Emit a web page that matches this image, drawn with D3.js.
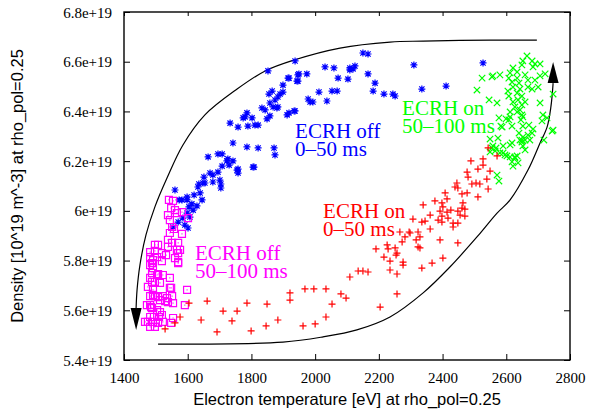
<!DOCTYPE html>
<html>
<head>
<meta charset="utf-8">
<script src="https://d3js.org/d3.v7.min.js"></script>
<style>
  body { margin: 0; background: #fff; }
  svg { display: block; }
</style>
</head>
<body>
<div id="main"></div>
<script>
// density values are in units of 1e19 m^-3, temperature in eV
var xTicks = [1400, 1600, 1800, 2000, 2200, 2400, 2600, 2800];
var yTicks = [5.4, 5.6, 5.8, 6.0, 6.2, 6.4, 6.6, 6.8];

// ECRH off, 0-50 ms (blue stars)
var offEarly = [
  [1937,6.603],[1852,6.563],[1915,6.534],[1946,6.547],[1946,6.522],[1899,6.506],[1865,6.482],[1855,6.470],
  [1883,6.458],[1874,6.446],[1858,6.434],[1883,6.418],[1868,6.418],[1843,6.406],[1833,6.414],[1786,6.394],
  [1802,6.374],[1821,6.345],[1849,6.370],[1934,6.402],[1912,6.386],[1811,6.345],[1789,6.341],[1780,6.378],
  [1774,6.374],[1733,6.353],[1758,6.337],[1742,6.273],[1786,6.257],[1821,6.253],[1871,6.253],[1874,6.225],
  [1808,6.176],[1758,6.168],[1758,6.152],[1742,6.201],[1730,6.184],[1723,6.201],[1708,6.229],[1695,6.229],
  [1708,6.180],[1695,6.156],[1679,6.144],[1664,6.217],[1701,6.124],[1704,6.108],[1704,6.092],[1679,6.116],
  [1670,6.152],[1654,6.112],[1635,6.108],[1632,6.096],[1620,6.064],[1645,6.044],[1639,6.072],[1598,6.056],
  [1613,6.028],[1598,6.044],[1582,6.044],[1560,6.084],[1604,6.016],[1617,6.003],[1629,6.020],[1573,6.044],
  [1598,5.991],[1607,5.975],[1585,5.971],[1591,5.943],[1570,5.955],[1601,5.931],[1554,5.935],[1651,6.136],
  [2150,6.635],[2166,6.631],[2031,6.579],[2059,6.575],[2109,6.575],[2125,6.583],[2109,6.567],[2119,6.571],
  [1949,6.551],[1974,6.551],[1918,6.534],[1943,6.522],[2072,6.534],[2103,6.530],[2166,6.551],[2188,6.514],
  [2182,6.482],[2216,6.470],[2244,6.470],[2251,6.462],[2053,6.482],[2069,6.482],[2012,6.478],[2037,6.442],
  [1978,6.450],[1984,6.438],[1993,6.438],[1899,6.478],[1890,6.470],[1880,6.414],[1937,6.402],[1918,6.394],
  [1858,6.382],[2310,6.587],[2335,6.490],[2411,6.502],[2527,6.595],[1755,6.164],[1805,6.176],[1726,6.209],
  [1648,6.112]
];

// ECRH off, 50-100 ms (magenta squares)
var offLate = [
  [1541,6.044],[1554,6.040],[1548,6.011],[1560,6.003],[1538,5.983],[1544,5.963],[1582,5.995],[1601,5.971],
  [1551,5.935],[1557,5.927],[1582,5.907],[1544,5.911],[1538,5.883],[1551,5.871],[1570,5.871],[1538,5.855],
  [1576,5.843],[1570,5.830],[1497,5.863],[1507,5.863],[1482,5.834],[1497,5.839],[1519,5.830],[1532,5.822],
  [1482,5.814],[1504,5.814],[1560,5.810],[1570,5.794],[1519,5.798],[1488,5.790],[1491,5.770],[1488,5.750],
  [1504,5.742],[1507,5.746],[1482,5.730],[1488,5.714],[1497,5.714],[1513,5.710],[1544,5.690],[1598,5.682],
  [1475,5.694],[1491,5.682],[1482,5.657],[1497,5.657],[1507,5.653],[1522,5.657],[1535,5.649],[1538,5.633],
  [1513,5.641],[1482,5.621],[1591,5.621],[1488,5.609],[1504,5.601],[1513,5.593],[1482,5.573],[1475,5.553],
  [1491,5.553],[1507,5.549],[1466,5.553],[1497,5.533],[1482,5.533],[1554,5.569],[1522,5.553],[1548,5.549],
  [1548,5.690],[1551,5.657],[1491,5.662],[1519,5.581],[1485,5.613],[1494,5.573],[1570,5.790],[1566,5.843],
  [1522,5.742],[1529,5.637],[1554,5.629],[1510,5.573],[1472,5.621],[1544,5.730],[1566,5.991],[1491,5.802],
  [1482,5.782]
];

// ECRH on, 50-100 ms (green crosses)
var onLate = [
  [2665,6.623],[2652,6.603],[2681,6.603],[2690,6.591],[2706,6.591],[2649,6.587],[2684,6.579],[2621,6.575],
  [2612,6.555],[2634,6.559],[2580,6.547],[2558,6.543],[2524,6.534],[2608,6.534],[2618,6.518],[2634,6.534],
  [2659,6.547],[2668,6.526],[2690,6.526],[2706,6.543],[2722,6.551],[2640,6.514],[2621,6.498],[2643,6.490],
  [2668,6.498],[2681,6.490],[2700,6.498],[2605,6.482],[2508,6.486],[2608,6.462],[2634,6.474],[2649,6.462],
  [2637,6.446],[2621,6.438],[2659,6.438],[2627,6.418],[2643,6.406],[2634,6.398],[2649,6.386],[2706,6.434],
  [2747,6.470],[2546,6.446],[2571,6.434],[2649,6.426],[2612,6.398],[2577,6.374],[2599,6.370],[2608,6.366],
  [2646,6.366],[2652,6.378],[2715,6.386],[2728,6.374],[2712,6.362],[2587,6.337],[2618,6.341],[2652,6.341],
  [2640,6.313],[2652,6.297],[2684,6.329],[2681,6.313],[2747,6.325],[2549,6.289],[2574,6.293],[2659,6.285],
  [2643,6.285],[2590,6.261],[2618,6.273],[2568,6.253],[2555,6.253],[2580,6.233],[2596,6.225],[2612,6.217],
  [2627,6.217],[2668,6.305],[2674,6.285],[2555,6.539],[2718,6.285],[2744,6.321],[2671,6.345],[2649,6.285],
  [2652,6.261],[2659,6.245],[2558,6.261],[2549,6.237],[2565,6.241],[2590,6.233],[2602,6.221],[2612,6.265],
  [2627,6.213],[2618,6.197],[2621,6.180],[2634,6.221],[2637,6.193],[2571,6.144],[2577,6.120],[2649,6.277],
  [2583,6.341],[2612,6.378]
];

// ECRH on, 0-50 ms (red plus signs)
var onEarly = [
  [1529,5.525],[1560,5.549],[1576,5.573],[1604,5.629],[1642,5.561],[1661,5.637],[1692,5.513],[1711,5.597],
  [1739,5.557],[1755,5.597],[1786,5.629],[1799,5.517],[1846,5.537],[1849,5.625],[1883,5.561],[1921,5.670],
  [1921,5.641],[1962,5.537],[1968,5.686],[1996,5.686],[2000,5.545],[2034,5.573],[2034,5.686],[2053,5.625],
  [2081,5.666],[2097,5.649],[2109,5.734],[2135,5.758],[2150,5.758],[2204,5.613],[2191,5.847],[2216,5.814],
  [2226,5.863],[2235,5.798],[2235,5.762],[2251,5.851],[2257,5.746],[2257,5.666],[2257,5.830],[2276,5.794],
  [2273,5.875],[2543,6.253],[2571,6.221],[2489,6.201],[2527,6.209],[2527,6.184],[2511,6.168],[2549,6.160],
  [2477,6.156],[2480,6.136],[2445,6.112],[2492,6.108],[2505,6.112],[2517,6.108],[2539,6.128],[2543,6.088],
  [2448,6.092],[2439,6.096],[2408,6.072],[2461,6.068],[2477,6.072],[2511,6.056],[2414,6.048],[2376,6.040],
  [2398,6.032],[2401,6.016],[2464,6.032],[2339,6.024],[2461,6.011],[2426,6.003],[2414,5.995],[2392,5.999],
  [2448,5.999],[2470,6.007],[2398,5.979],[2455,5.983],[2361,5.983],[2470,5.979],[2417,5.971],[2307,5.967],
  [2335,5.955],[2345,5.959],[2386,5.963],[2398,5.955],[2433,5.951],[2448,5.951],[2433,5.935],[2361,5.927],
  [2298,5.911],[2323,5.915],[2329,5.895],[2282,5.895],[2317,5.883],[2323,5.855],[2329,5.851],[2392,5.883],
  [2448,5.871],[2401,5.810],[2367,5.790],[2335,5.770],[2276,5.782],[2166,5.754],[2229,5.847],[2295,5.915],
  [2266,5.915],[2254,5.822]
];

// hand drawn loop with arrows (data units)
var loopBottom = [
  [1507,5.464],[1899,5.472],[2025,5.493],[2131,5.521],[2235,5.573],[2339,5.670],[2423,5.774],[2508,5.895],
  [2571,5.991],[2612,6.044],[2668,6.164],[2706,6.273],[2728,6.337],[2740,6.418],[2747,6.514]
];
var loopTop = [
  [2696,6.687],[2549,6.687],[2339,6.683],[2235,6.679],[2078,6.655],[1934,6.607],[1843,6.563],[1755,6.490],
  [1654,6.386],[1585,6.265],[1535,6.132],[1497,6.016],[1469,5.903],[1450,5.782],[1441,5.682],[1438,5.609]
];
var arrowUp = {base: [2747,6.514], tip: [2747,6.599]};
var arrowDown = {base: [1438,5.609], tip: [1438,5.521]};

var labels = [
  {lines: ["ECRH off", "0\u201350 ms"], at: [1937,6.293], color: "#0000ff"},
  {lines: ["ECRH on", "50\u2013100 ms"], at: [2273,6.386], color: "#00ff00"},
  {lines: ["ECRH on", "0\u201350 ms"], at: [2025,5.971], color: "#ff0000"},
  {lines: ["ECRH off", "50\u2013100 ms"], at: [1623,5.802], color: "#ff00ff"}
];

var width = 590, height = 417;
var mLeft = 124, mRight = 570, mTop = 12, mBottom = 360;
var serif = "'Liberation Serif', 'Times New Roman', serif";
var sans = "'Liberation Sans', Arial, sans-serif";

var svg = d3.select("#main").append("svg")
    .attr("width", width)
    .attr("height", height);

var x = d3.scaleLinear().domain([1400, 2800]).range([mLeft, mRight]);
var y = d3.scaleLinear().domain([5.4, 6.8]).range([mBottom, mTop]);

// axes (ticks point inward, mirrored on top/right)
var xb = svg.append("g").attr("transform", "translate(0," + mBottom + ")")
    .call(d3.axisBottom(x).tickValues(xTicks).tickSize(-6).tickFormat(d3.format("d")));
var yl = svg.append("g").attr("transform", "translate(" + mLeft + ",0)")
    .call(d3.axisLeft(y).tickValues(yTicks).tickSize(-6)
      .tickFormat(function(d) { return (+d.toFixed(1)) + "e+19"; }));
var xt = svg.append("g").attr("transform", "translate(0," + mTop + ")")
    .call(d3.axisTop(x).tickValues(xTicks).tickSize(-4).tickFormat(""));
var yr = svg.append("g").attr("transform", "translate(" + mRight + ",0)")
    .call(d3.axisRight(y).tickValues(yTicks).tickSize(-6).tickFormat(""));

[xb, yl, xt, yr].forEach(function(g) {
  g.select(".domain").remove();
  g.selectAll("line").attr("stroke", "#000").attr("stroke-width", 1);
  g.selectAll("text").attr("font-family", serif).attr("font-size", 15).attr("fill", "#000");
});
xb.selectAll("text").attr("y", 23).attr("dy", 0);
yl.selectAll("text").attr("x", -12).attr("dy", "0.34em");

svg.append("rect")
    .attr("x", mLeft).attr("y", mTop)
    .attr("width", mRight - mLeft).attr("height", mBottom - mTop)
    .attr("fill", "none").attr("stroke", "#000").attr("stroke-width", 1.4);

// axis titles
svg.append("text")
    .attr("x", (mLeft + mRight) / 2).attr("y", 405)
    .attr("text-anchor", "middle")
    .attr("font-family", sans).attr("font-size", 16.5)
    .text("Electron temperature [eV] at rho_pol=0.25");
svg.append("text")
    .attr("transform", "translate(23," + (mTop + mBottom) / 2 + ") rotate(-90)")
    .attr("text-anchor", "middle")
    .attr("font-family", sans).attr("font-size", 16.5)
    .text("Density [10^19 m^-3] at rho_pol=0.25");

// loop curve
var line = d3.line()
    .x(function(d) { return x(d[0]); })
    .y(function(d) { return y(d[1]); })
    .curve(d3.curveCatmullRom);

[loopBottom, loopTop].forEach(function(pts) {
  svg.append("path").attr("d", line(pts))
      .attr("fill", "none").attr("stroke", "#000").attr("stroke-width", 1.2);
});
[arrowUp, arrowDown].forEach(function(a) {
  var bx = x(a.base[0]), by = y(a.base[1]), tx = x(a.tip[0]), ty = y(a.tip[1]);
  svg.append("path")
      .attr("d", "M" + tx + "," + ty + "L" + (bx - 5.5) + "," + by + "L" + (bx + 5.5) + "," + by + "Z")
      .attr("fill", "#000");
});

// markers
function starPath(s) {
  var d = s * 0.75;
  return "M" + (-s) + ",0H" + s + "M0," + (-s) + "V" + s +
         "M" + (-d) + "," + (-d) + "L" + d + "," + d + "M" + (-d) + "," + d + "L" + d + "," + (-d);
}
function crossPath(s) {
  return "M" + (-s) + "," + (-s) + "L" + s + "," + s + "M" + (-s) + "," + s + "L" + s + "," + (-s);
}
function plusPath(s) {
  return "M" + (-s) + ",0H" + s + "M0," + (-s) + "V" + s;
}
function squarePath(s) {
  return "M" + (-s) + "," + (-s) + "H" + s + "V" + s + "H" + (-s) + "Z M-0.5,0H0.5";
}

function drawSeries(data, shape, color) {
  svg.append("g").selectAll("path")
      .data(data)
    .enter().append("path")
      .attr("transform", function(d) { return "translate(" + x(d[0]) + "," + y(d[1]) + ")"; })
      .attr("d", shape)
      .attr("fill", "none")
      .attr("stroke", color)
      .attr("stroke-width", 1.2);
}
drawSeries(offEarly, starPath(3.5), "#0000ff");
drawSeries(onLate, crossPath(3.2), "#00ff00");
drawSeries(offLate, squarePath(3.5), "#ff00ff");
drawSeries(onEarly, plusPath(3.5), "#ff0000");

// annotations
labels.forEach(function(l) {
  var t = svg.append("text")
      .attr("x", x(l.at[0])).attr("y", y(l.at[1]))
      .attr("font-family", serif).attr("font-size", 21)
      .attr("fill", l.color);
  l.lines.forEach(function(s, i) {
    t.append("tspan").attr("x", x(l.at[0])).attr("dy", i == 0 ? 0 : 18).text(s);
  });
});
</script>
</body>
</html>
